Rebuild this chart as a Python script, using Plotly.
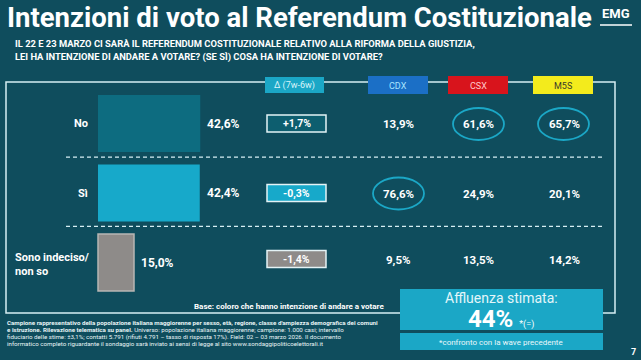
import plotly.graph_objects as go

# ---------------- data ----------------
categories = ["No", "Sì", "Sono indeciso/<br>non so"]
totals = [42.6, 42.4, 15.0]
deltas = [1.7, -0.3, -1.4]
parties = ["CDX", "CSX", "M5S"]
cdx = [13.9, 76.6, 9.5]
csx = [61.6, 24.9, 13.5]
m5s = [65.7, 20.1, 14.2]
affluenza = 44

title = "Intenzioni di voto al Referendum Costituzionale"
question = ["IL 22 E 23 MARZO CI SARÀ IL REFERENDUM COSTITUZIONALE RELATIVO ALLA RIFORMA DELLA GIUSTIZIA,",
            "LEI HA INTENZIONE DI ANDARE A VOTARE? (SE SÌ) COSA HA INTENZIONE DI VOTARE?"]
footnote = [
    "<b>Campione rappresentativo della popolazione italiana maggiorenne per sesso, età, regione, classe d'ampiezza demografica dei comuni</b>",
    "<b>e istruzione. Rilevazione telematica su panel.</b> Universo: popolazione italiana maggiorenne; campione: 1.000 casi; intervallo",
    "fiduciario delle stime: ±3,1%; contatti 5.791 (rifiuti 4.791 – tasso di risposta 17%). Field: 02 – 03 marzo 2026. Il documento",
    "informatico completo riguardante il sondaggio sarà inviato ai sensi di legge al sito www.sondaggipoliticoelettorali.it",
]

# ---------------- style ----------------
W, H = 641, 360
BG = "#0f4d5d"
BAR_COLORS = ["#0d6c80", "#17a9ca", "#8e8b89"]
CYAN = "#1ba7c6"
PARTY_COLORS = ["#1b6fc6", "#d8141c", "#f3eb1c"]
PARTY_TEXT = ["#a9e4ff", "#ffc9c9", "#3a3a2a"]
PARTY_X = [398, 478, 563]
FONT = "Roboto"
LINE = "#d6eef3"

X0, SCALE = 98, 2.4          # pixel of 0 %, pixels per %
ROW0, STEP = 123.5, 69.5     # pixel of first row centre, pixels per row


def px(x):
    return x / W


def py(y):
    return 1 - y / H


def fmt(v, sign=False):
    s = f"{v:+.1f}" if sign else f"{v:.1f}"
    return s.replace(".", ",") + "%"


ann = []
shapes = []


def text(x, y, s, size, color="white", xanchor="center", family=FONT, xref="paper", yref="paper", **kw):
    xx = px(x) if xref == "paper" else x
    yy = py(y) if yref == "paper" else y
    ann.append(dict(xref=xref, yref=yref, x=xx, y=yy, text=s, showarrow=False, xanchor=xanchor,
                    yanchor="middle", font=dict(family=family, size=size, color=color), **kw))


def rect(x0, x1, y0, y1, fill=None, line_color=None, lw=0):
    shapes.append(dict(type="rect", xref="paper", yref="paper", x0=px(x0), x1=px(x1), y0=py(y0), y1=py(y1),
                       fillcolor=fill or "rgba(0,0,0,0)",
                       line=dict(color=line_color or "rgba(0,0,0,0)", width=lw)))


rows = list(range(len(categories)))
fig = go.Figure()
fig.add_trace(go.Bar(
    orientation="h", x=totals, y=rows, width=0.82,
    marker=dict(color=BAR_COLORS,
                line=dict(color=["rgba(0,0,0,0)", "rgba(0,0,0,0)", "#b8b6b4"], width=[0, 0, 1.5])),
    hoverinfo="skip",
))

# main frame
rect(6, 615, 82, 313, line_color=LINE, lw=1.5)
# dashed separators
for k in (0.485, 1.48):
    shapes.append(dict(type="line", xref="paper", yref="y", x0=px(66), x1=px(603), y0=k, y1=k,
                       line=dict(color=LINE, width=1.3, dash="4px,3px")))

# header: delta
rect(265, 324, 77, 93, fill=CYAN)
text(294.5, 85.5, "Δ (7w-6w)", 9, "#d9f4fa")
# header: parties
for p, c, tc, cx in zip(parties, PARTY_COLORS, PARTY_TEXT, PARTY_X):
    rect(cx - 30, cx + 30, 76, 94, fill=c)
    text(cx, 85.5, p, 9, tc)

# rows
for i, (cat, tot, d) in enumerate(zip(categories, totals, deltas)):
    if "<br>" in cat:
        text(13, i, f"<b>{cat}</b>", 11, xanchor="left", yref="y", align="left", yshift=-2)
    else:
        text(90, i, f"<b>{cat}</b>", 11, xanchor="right", yref="y")
    text(tot, i, f"<b>{fmt(tot)}</b>", 12, xanchor="left", xref="x", yref="y", xshift=5)
    yc = ROW0 + STEP * i - (3.5 if i == 2 else 0)
    rect(267, 326, yc - 8.5, yc + 8.5, fill=BAR_COLORS[i] if i else "#0d5e6f", line_color="#e4f3f6", lw=1.5)
    text(296.5, yc, f"<b>{fmt(d, True)}</b>", 10.5)
    for vals, cx in zip((cdx, csx, m5s), PARTY_X):
        text(cx + 1, yc + 0.5, f"<b>{fmt(vals[i])}</b>", 11.5)

# ellipses around the max value of each party column
for vals, cx in zip((cdx, csx, m5s), PARTY_X):
    i = max(range(len(vals)), key=lambda k: vals[k])
    yc = ROW0 + STEP * i
    shapes.append(dict(type="circle", xref="paper", yref="paper", x0=px(cx - 25), x1=px(cx + 26),
                       y0=py(yc - 15.5), y1=py(yc + 16.5), line=dict(color=CYAN, width=1.8)))

# base note
text(386, 306, "<b>Base: coloro che hanno intenzione di andare a votare</b>", 8, xanchor="right")

# affluenza boxes
rect(400, 603, 289, 330, fill=CYAN)
rect(400, 603, 333, 350, fill=CYAN)
text(501, 298, "Affluenza stimata:", 14, "#e3f6fa")
text(501, 319, f"<b>{affluenza}%</b> <span style='font-size:9px'>*(=)</span>", 24)
text(501, 342, "*confronto con la wave precedente", 8, "#eaf8fb")

# title, logo, question
text(5, 17, f"<b>{title}</b>", 27.5, xanchor="left")
text(616, 14, "<b>EMG</b>", 13)
shapes.append(dict(type="line", xref="paper", yref="paper", x0=px(600), x1=px(632), y0=py(25), y1=py(25),
                   line=dict(color="white", width=1.5)))
for k, q in enumerate(question):
    text(13, 43 + 14 * k, f"<b>{q}</b>", 9.4, xanchor="left")

# footnote
for k, f in enumerate(footnote):
    text(5, 323 + 7 * k, f, 6.2, "#e8f4f6", xanchor="left")
text(633, 352, "<b>7</b>", 9)

fig.update_layout(
    width=W, height=H, margin=dict(l=0, r=0, t=0, b=0),
    paper_bgcolor=BG, plot_bgcolor=BG, showlegend=False,
    xaxis=dict(range=[-X0 / SCALE, (W - X0) / SCALE], visible=False, fixedrange=True, domain=[0, 1]),
    yaxis=dict(range=[(H - ROW0) / STEP, -ROW0 / STEP], visible=False, fixedrange=True, domain=[0, 1]),
    shapes=shapes, annotations=ann,
)
fig.write_html("out.html")
